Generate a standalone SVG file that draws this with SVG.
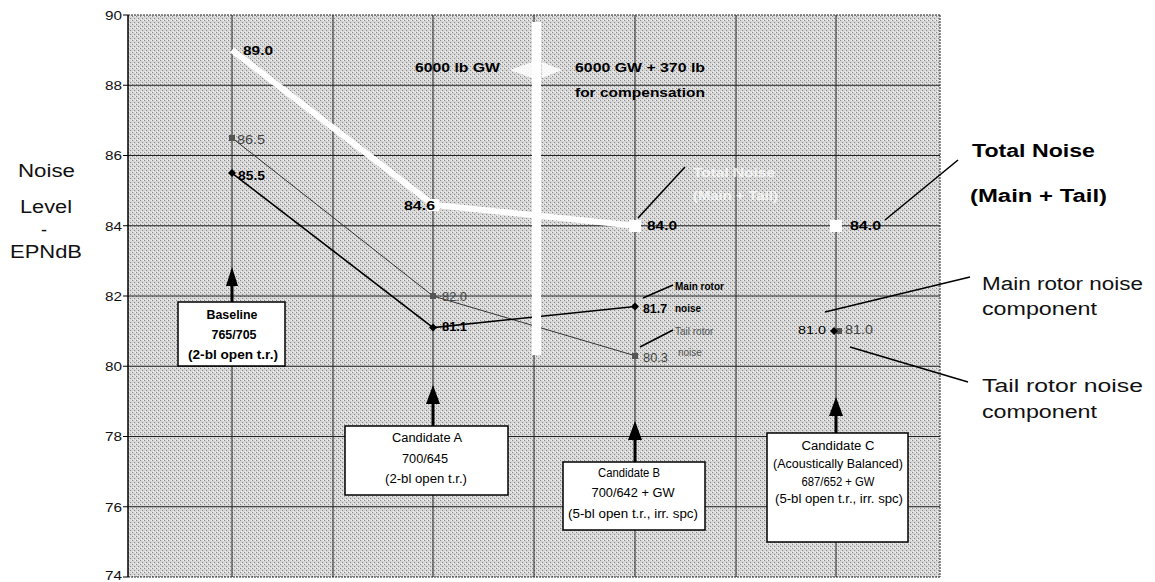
<svg xmlns="http://www.w3.org/2000/svg" width="1155" height="582" viewBox="0 0 1155 582">
<style>
text{font-family:"Liberation Sans",Arial,sans-serif;}
.tick{font-size:13px;fill:#111;text-anchor:end;}
.grid{stroke:#222;stroke-width:1;fill:none;}
.gridd{stroke:#222;stroke-width:1;fill:none;stroke-dasharray:2 1;}
.big{font-size:18px;fill:#111;}
.bigb{font-size:18px;fill:#000;font-weight:bold;}
.lbl{font-size:13px;font-weight:bold;fill:#000;}
.glbl{font-size:12px;fill:#444;}
.box{fill:#fff;stroke:#000;stroke-width:1.5;}
.bt{font-size:12px;fill:#000;text-anchor:middle;}
.lead{stroke:#000;stroke-width:1.6;fill:none;}
.arr{stroke:#000;stroke-width:3;fill:none;}
</style>
<defs>
<pattern id="dith" width="4" height="4" patternUnits="userSpaceOnUse">
<rect width="4" height="4" fill="#d6d6d6"/>
<rect x="0" y="0" width="1" height="1" fill="#8a8a8a"/>
<rect x="2" y="2" width="1" height="1" fill="#8a8a8a"/>
<rect x="3" y="0" width="1" height="1" fill="#f2f2f2"/>
<rect x="1" y="3" width="1" height="1" fill="#f2f2f2"/>
</pattern>
</defs>
<rect width="1155" height="582" fill="#fff"/>
<g id="plot">
<rect x="128" y="15" width="812" height="562" fill="url(#dith)"/>
<g id="hgrid">
<line class="grid" x1="128" y1="85.25" x2="940" y2="85.25"/>
<line class="grid" x1="128" y1="155.5" x2="940" y2="155.5"/>
<line class="grid" x1="128" y1="225.75" x2="940" y2="225.75"/>
<line class="grid" x1="128" y1="296" x2="940" y2="296"/>
<line class="grid" x1="128" y1="366.25" x2="940" y2="366.25"/>
<line class="grid" x1="128" y1="436.5" x2="940" y2="436.5"/>
<line class="grid" x1="128" y1="506.75" x2="940" y2="506.75"/>
</g>
<g id="vgrid">
<line class="grid" x1="232" y1="15" x2="232" y2="577"/>
<line class="grid" x1="333" y1="15" x2="333" y2="577"/>
<line class="grid" x1="433" y1="15" x2="433" y2="577"/>
<line class="grid" x1="534" y1="15" x2="534" y2="577"/>
<line class="grid" x1="635" y1="15" x2="635" y2="577"/>
<line class="grid" x1="736" y1="15" x2="736" y2="577"/>
<line class="grid" x1="836" y1="15" x2="836" y2="577"/>
</g>
<line class="gridd" x1="128" y1="15" x2="940" y2="15"/>
<line class="gridd" x1="940" y1="15" x2="940" y2="577"/>
<line class="gridd" x1="128" y1="577" x2="940" y2="577"/>
<line stroke="#000" stroke-width="1.5" x1="128" y1="15" x2="128" y2="577"/>
</g>
<g id="yaxis">
<g stroke="#000" stroke-width="1">
<line x1="123" y1="15" x2="128" y2="15"/><line x1="123" y1="85.25" x2="128" y2="85.25"/>
<line x1="123" y1="155.5" x2="128" y2="155.5"/><line x1="123" y1="225.75" x2="128" y2="225.75"/>
<line x1="123" y1="296" x2="128" y2="296"/><line x1="123" y1="366.25" x2="128" y2="366.25"/>
<line x1="123" y1="436.5" x2="128" y2="436.5"/><line x1="123" y1="506.75" x2="128" y2="506.75"/>
<line x1="123" y1="577" x2="128" y2="577"/>
</g>
<text class="tick" x="122" y="20" textLength="17" lengthAdjust="spacingAndGlyphs">90</text>
<text class="tick" x="122" y="90" textLength="17" lengthAdjust="spacingAndGlyphs">88</text>
<text class="tick" x="122" y="160" textLength="17" lengthAdjust="spacingAndGlyphs">86</text>
<text class="tick" x="122" y="231" textLength="17" lengthAdjust="spacingAndGlyphs">84</text>
<text class="tick" x="122" y="301" textLength="17" lengthAdjust="spacingAndGlyphs">82</text>
<text class="tick" x="122" y="371" textLength="17" lengthAdjust="spacingAndGlyphs">80</text>
<text class="tick" x="122" y="441" textLength="17" lengthAdjust="spacingAndGlyphs">78</text>
<text class="tick" x="122" y="512" textLength="17" lengthAdjust="spacingAndGlyphs">76</text>
<text class="tick" x="122" y="580" textLength="17" lengthAdjust="spacingAndGlyphs">74</text>
</g>
<g id="ytitle">
<text class="big" x="18" y="177" textLength="57" lengthAdjust="spacingAndGlyphs">Noise</text>
<text class="big" x="20" y="213" textLength="52" lengthAdjust="spacingAndGlyphs">Level</text>
<text class="big" x="41" y="236">-</text>
<text class="big" x="10" y="258" textLength="72" lengthAdjust="spacingAndGlyphs">EPNdB</text>
</g>
<g id="connectors">
<polyline points="232,137.9 433,296 635,355.7" fill="none" stroke="#333" stroke-width="1"/>
<polyline points="232,173.1 433,327.6 635,306.5" fill="none" stroke="#000" stroke-width="1.6"/>
<polyline points="232,50.1 433,204.7 635,225.75" fill="none" stroke="#fff" stroke-width="6" stroke-linejoin="round"/>
<line class="lead" x1="638" y1="218" x2="685" y2="167"/>
<line class="lead" x1="885" y1="220" x2="958" y2="160"/>
<line class="lead" x1="825" y1="312" x2="970" y2="277"/>
<line class="lead" x1="850" y1="347" x2="968" y2="382"/>
<line class="lead" x1="643" y1="298" x2="673" y2="285"/>
<line class="lead" x1="640" y1="347" x2="673" y2="330"/>
<line class="arr" x1="232" y1="302" x2="232" y2="283"/>
<polygon points="232,267 226,286 238,286" fill="#000"/>
<line class="arr" x1="433" y1="426" x2="433" y2="402"/>
<polygon points="433,385 426,404 440,404" fill="#000"/>
<line class="arr" x1="635" y1="462" x2="635" y2="438"/>
<polygon points="635,421 628,440 642,440" fill="#000"/>
<line class="arr" x1="836" y1="433" x2="836" y2="414"/>
<polygon points="836,397 829,416 843,416" fill="#000"/>
</g>
<g id="gwbar">
<rect x="532" y="22" width="9" height="333" fill="#fff"/>
<polygon points="510,70 532,62 532,78" fill="#fff" opacity="0.85"/>
<polygon points="562,70 542,62 542,78" fill="#fff" opacity="0.85"/>
<text class="lbl" x="415" y="72" textLength="85" lengthAdjust="spacingAndGlyphs" font-size="14">6000 lb GW</text>
<text class="lbl" x="575" y="72" textLength="130" lengthAdjust="spacingAndGlyphs" font-size="14">6000 GW + 370 lb</text>
<text class="lbl" x="575" y="97" textLength="130" lengthAdjust="spacingAndGlyphs" font-size="14">for compensation</text>
</g>
<g id="markers">
<g fill="#fff">
<rect x="427" y="199" width="12" height="12"/>
<rect x="629" y="220" width="12" height="12"/>
<rect x="830" y="220" width="12" height="12"/>
</g>
<g fill="#555">
<rect x="229" y="135" width="6" height="6"/>
<rect x="430" y="293" width="6" height="6"/>
<rect x="632" y="353" width="6" height="6"/>
<rect x="836" y="328" width="6" height="6"/>
</g>
<g fill="#000">
<polygon points="232,169 236,173 232,177 228,173"/>
<polygon points="433,323.6 437,327.6 433,331.6 429,327.6"/>
<polygon points="635,302.5 639,306.5 635,310.5 631,306.5"/>
<polygon points="834,327 838,331 834,335 830,331"/>
</g>
</g>
<g id="datalabels">
<text class="lbl" x="243" y="55" textLength="30" lengthAdjust="spacingAndGlyphs">89.0</text>
<text class="lbl" x="404" y="210" textLength="31" lengthAdjust="spacingAndGlyphs">84.6</text>
<text class="lbl" x="647" y="230" textLength="30" lengthAdjust="spacingAndGlyphs">84.0</text>
<text class="lbl" x="850" y="230" textLength="31" lengthAdjust="spacingAndGlyphs">84.0</text>
<text class="glbl" x="237" y="144" textLength="28" lengthAdjust="spacingAndGlyphs">86.5</text>
<text class="lbl" x="238" y="180" textLength="27" lengthAdjust="spacingAndGlyphs" font-size="12">85.5</text>
<text class="glbl" x="442" y="301" textLength="25" lengthAdjust="spacingAndGlyphs">82.0</text>
<text class="lbl" x="442" y="331" textLength="25" lengthAdjust="spacingAndGlyphs" font-size="12">81.1</text>
<text class="lbl" x="643" y="313" textLength="24" lengthAdjust="spacingAndGlyphs" font-size="12">81.7</text>
<text class="glbl" x="643" y="362" textLength="25" lengthAdjust="spacingAndGlyphs">80.3</text>
<text font-size="11" fill="#000" x="798" y="334" textLength="28" lengthAdjust="spacingAndGlyphs">81.0</text>
<text class="glbl" font-size="11" x="845" y="334" textLength="28" lengthAdjust="spacingAndGlyphs">81.0</text>
<text font-size="10" font-weight="bold" fill="#000" x="675" y="290">Main rotor</text>
<text font-size="10" font-weight="bold" fill="#000" x="675" y="312">noise</text>
<text font-size="10" fill="#555" x="675" y="335">Tail rotor</text>
<text font-size="10" fill="#555" x="678" y="356">noise</text>
<text font-size="12" font-weight="bold" fill="#fff" opacity="0.75" x="693" y="177" textLength="82" lengthAdjust="spacingAndGlyphs">Total Noise</text>
<text font-size="12" font-weight="bold" fill="#fff" opacity="0.75" x="693" y="200" textLength="85" lengthAdjust="spacingAndGlyphs">(Main + Tail)</text>
</g>
<g id="legend">
<text class="bigb" x="972" y="157" textLength="123" lengthAdjust="spacingAndGlyphs">Total Noise</text>
<text class="bigb" x="970" y="202" textLength="137" lengthAdjust="spacingAndGlyphs">(Main + Tail)</text>
<text class="big" x="982" y="290" textLength="161" lengthAdjust="spacingAndGlyphs">Main rotor noise</text>
<text class="big" x="982" y="315" textLength="115" lengthAdjust="spacingAndGlyphs">component</text>
<text class="big" x="982" y="392" textLength="161" lengthAdjust="spacingAndGlyphs" fill="#777">Tail rotor noise</text>
<text class="big" x="982" y="418" textLength="115" lengthAdjust="spacingAndGlyphs" fill="#777">component</text>
</g>
<g id="baseline">
<rect class="box" x="178" y="302" width="107" height="64"/>
<text class="bt" x="232" y="319" font-weight="bold" textLength="51" lengthAdjust="spacingAndGlyphs">Baseline</text>
<text class="bt" x="234" y="339" font-weight="bold" textLength="45" lengthAdjust="spacingAndGlyphs">765/705</text>
<text class="bt" x="233" y="359" font-weight="bold" textLength="90" lengthAdjust="spacingAndGlyphs">(2-bl open t.r.)</text>
</g>
<g id="candA">
<rect class="box" x="345" y="426" width="163" height="69"/>
<text class="bt" x="427" y="442" textLength="70" lengthAdjust="spacingAndGlyphs">Candidate A</text>
<text class="bt" x="425" y="463" textLength="46" lengthAdjust="spacingAndGlyphs">700/645</text>
<text class="bt" x="426" y="483" textLength="82" lengthAdjust="spacingAndGlyphs">(2-bl open t.r.)</text>
</g>
<g id="candB">
<rect class="box" x="563" y="462" width="142" height="68"/>
<text class="bt" x="629" y="477" textLength="62" lengthAdjust="spacingAndGlyphs">Candidate B</text>
<text class="bt" x="633" y="497" textLength="83" lengthAdjust="spacingAndGlyphs">700/642 + GW</text>
<text class="bt" x="633" y="518" textLength="130" lengthAdjust="spacingAndGlyphs">(5-bl open t.r., irr. spc)</text>
</g>
<g id="candC">
<rect class="box" x="767" y="433" width="141" height="109"/>
<text class="bt" x="838" y="450" textLength="73" lengthAdjust="spacingAndGlyphs">Candidate C</text>
<text class="bt" x="838" y="468" textLength="130" lengthAdjust="spacingAndGlyphs">(Acoustically Balanced)</text>
<text class="bt" x="838" y="486" textLength="73" lengthAdjust="spacingAndGlyphs">687/652 + GW</text>
<text class="bt" x="839" y="503" textLength="128" lengthAdjust="spacingAndGlyphs">(5-bl open t.r., irr. spc)</text>
</g>
</svg>
